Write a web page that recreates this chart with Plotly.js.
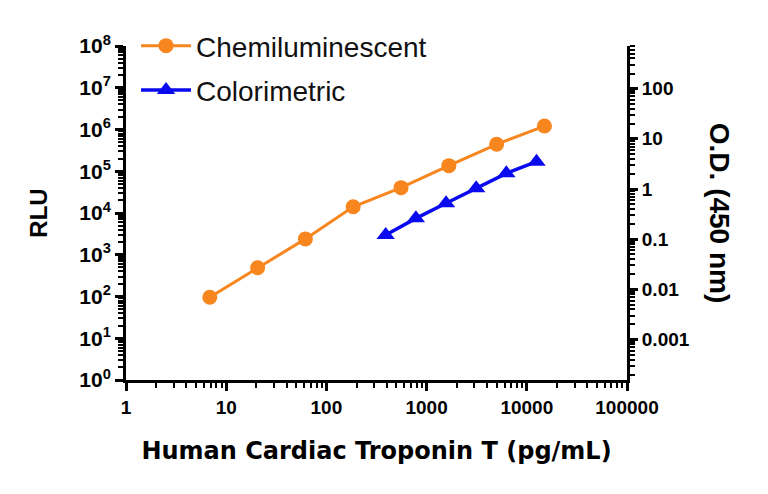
<!DOCTYPE html>
<html>
<head>
<meta charset="utf-8">
<script src="https://cdn.plot.ly/plotly-3.0.1.min.js"></script>
<style>html,body{margin:0;padding:0;background:#fff}#chart{width:768px;height:494px}</style>
</head>
<body>
<div id="chart"></div>
<script>
// Data
var chemiX = [6.86, 20.6, 61.7, 185, 556, 1667, 5000, 15000];
var chemiY = [96, 490, 2400, 14100, 40500, 136000, 442000, 1210000];
var coloX = [390.6, 781.25, 1562.5, 3125, 6250, 12500];
var coloY = [0.121, 0.26, 0.52, 1.03, 2.05, 3.5];

var leftTickVals = [1, 10, 100, 1e3, 1e4, 1e5, 1e6, 1e7, 1e8];
var leftTickText = ['10<sup>0</sup>','10<sup>1</sup>','10<sup>2</sup>','10<sup>3</sup>','10<sup>4</sup>','10<sup>5</sup>','10<sup>6</sup>','10<sup>7</sup>','10<sup>8</sup>'];
var rightTickVals = [0.001, 0.01, 0.1, 1, 10, 100];
var rightTickText = ['0.001','0.01','0.1','1','10','100'];
var xTickVals = [1, 10, 100, 1000, 10000, 100000];
var xTickText = ['1','10','100','1000','10000','100000'];

function minorVals(lo, hi) {
  var v = [];
  for (var e = lo; e < hi; e++) for (var m = 2; m <= 9; m++) v.push(m * Math.pow(10, e));
  return v;
}

var orange = '#F7861E';
var blue = '#0A0AEE';
var fam = 'Arial, "Liberation Sans", sans-serif';
var geo = '"DejaVu Sans", sans-serif';

var traces = [
  {x: chemiX, y: chemiY, name: 'Chemiluminescent', type: 'scatter', mode: 'lines+markers',
   line: {color: orange, width: 3}, marker: {color: orange, size: 15, symbol: 'circle'},
   xaxis: 'x', yaxis: 'y', legendgroup: 'a'},
  {x: coloX, y: coloY, name: 'Colorimetric', type: 'scatter', mode: 'lines+markers',
   line: {color: blue, width: 3.5}, marker: {color: blue, size: 16, symbol: 'triangle-up'},
   xaxis: 'x', yaxis: 'y2', legendgroup: 'b'}
];

var axisCommon = {
  showgrid: false, zeroline: false, showline: true, linecolor: '#000', linewidth: 3,
  ticks: 'outside', ticklen: 8, tickwidth: 3, tickcolor: '#000',
  tickfont: {family: fam, size: 19, color: '#000', weight: 'bold'}
};

var layout = {
  width: 768, height: 494,
  margin: {l: 126, r: 141, t: 46, b: 114},
  paper_bgcolor: '#fff', plot_bgcolor: '#fff',
  showlegend: true,
  legend: {x: 0.02, y: 1.075, xanchor: 'left', yanchor: 'top', bgcolor: 'rgba(0,0,0,0)',
           font: {family: fam, size: 28, color: '#111'}, tracegroupgap: 5, traceorder: 'grouped',
           itemwidth: 50},
  xaxis: Object.assign({}, axisCommon, {
    type: 'log', range: [0, 5], tickmode: 'array', tickvals: xTickVals, ticktext: xTickText,
    minor: {tickmode: 'array', tickvals: minorVals(0, 5), ticks: 'outside', ticklen: 5, tickwidth: 2, tickcolor: '#000'},
    title: {text: 'Human Cardiac Troponin T (pg/mL)', font: {family: geo, size: 24, color: '#000', weight: 'bold'}, standoff: 26}
  }),
  yaxis: Object.assign({}, axisCommon, {
    type: 'log', range: [0, 8], tickmode: 'array', tickvals: leftTickVals, ticktext: leftTickText,
    tickfont: {family: fam, size: 21, color: '#000', weight: 'bold'},
    minor: {tickmode: 'array', tickvals: minorVals(0, 8), ticks: 'outside', ticklen: 5, tickwidth: 2, tickcolor: '#000'},
    title: {text: 'RLU', font: {family: fam, size: 24, color: '#000', weight: 'bold'}, standoff: 25}
  }),
  yaxis2: Object.assign({}, axisCommon, {
    type: 'log', range: [-3.805, 2.849], overlaying: 'y', side: 'right', anchor: 'x',
    tickmode: 'array', tickvals: rightTickVals, ticktext: rightTickText,
    minor: {tickmode: 'array', tickvals: minorVals(-4, 3), ticks: 'outside', ticklen: 5, tickwidth: 2, tickcolor: '#000'}
  }),
  annotations: [
    {text: 'O.D. (450 nm)', xref: 'paper', yref: 'paper', x: 1.186, y: 0.5, xanchor: 'center', yanchor: 'middle',
     showarrow: false, textangle: 90, font: {family: fam, size: 28, color: '#000', weight: 'bold'}}
  ]
};

Plotly.newPlot('chart', traces, layout, {displayModeBar: false, responsive: false});
</script>
</body>
</html>
